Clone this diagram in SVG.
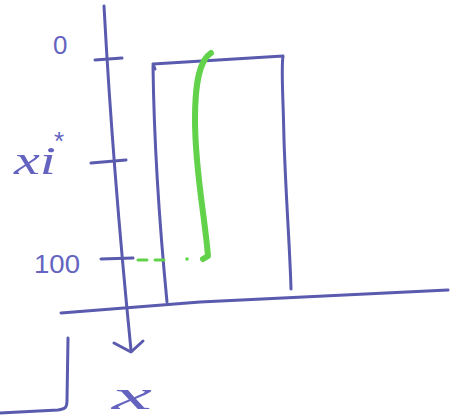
<svg xmlns="http://www.w3.org/2000/svg" width="458" height="417" viewBox="0 0 458 417">
<style>
.ink{fill:none;stroke:#5a5aae;stroke-width:3;stroke-linecap:round;stroke-linejoin:round}
.green{fill:none;stroke:#62d24a;stroke-linecap:round;stroke-linejoin:round}
.lbl{fill:#6464c0;font-family:"Liberation Sans",sans-serif;font-size:26px}
.var{fill:#6464c0;font-family:"Liberation Serif",serif;font-style:italic;font-size:40px}
</style>
<rect width="458" height="417" fill="#fff"/>
<g id="axes">
<path class="ink" d="M104,6 C108,80 116,200 131,350"/>
<path class="ink" d="M114,343 L131,352 L143,341"/>
<path class="ink" d="M61,313 L200,302 L448,290"/>
<path class="ink" d="M95,60 L122,58"/>
<path class="ink" d="M91,163 L126,160"/>
<path class="ink" d="M101,259 L133,258"/>
</g>
<g id="box">
<path class="ink" d="M155,69 L153,64 L283,56 C281,70 283,90 284,140 C286,200 290,250 291,289"/>
<path class="ink" d="M153,66 C154,140 160,230 167,302"/>
</g>
<g id="curve">
<path class="green" stroke-width="6" d="M211,53 C200,60 195,80 195,120 C195,170 204,210 208,256 L203,259"/>
<path class="green" stroke-width="3" stroke-dasharray="9,8" d="M138,260 L170,260"/>
<circle cx="187" cy="259" r="1.8" fill="#62d24a"/>
</g>
<g id="bracket">
<path class="ink" d="M68,338 L67,400 C67,407 66,409 58,410 L0,413"/>
</g>
<g id="labels">
<text class="lbl" x="53" y="54" font-size="25">0</text>
<text class="var" x="14" y="174" textLength="42" lengthAdjust="spacingAndGlyphs">xi</text>
<text class="lbl" x="54" y="150" font-size="32">*</text>
<text class="lbl" x="34" y="273" font-size="30" textLength="46" lengthAdjust="spacingAndGlyphs">100</text>
<text class="var" x="112" y="409" font-size="44" textLength="40" lengthAdjust="spacingAndGlyphs">x</text>
</g>
</svg>
